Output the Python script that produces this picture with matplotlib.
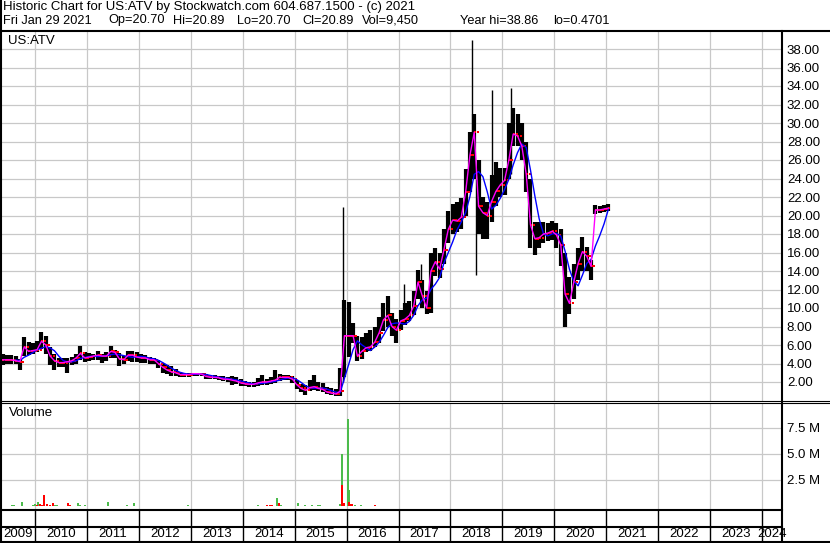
import numpy as np
import pandas as pd
import matplotlib
matplotlib.use("Agg")
import matplotlib.pyplot as plt
from matplotlib.lines import Line2D

plt.rcParams['font.family'] = ['Liberation Sans', 'DejaVu Sans']

# ---- data ----
# monthly high / low / close, May 2009 .. Jan 2021
first_month = "2009-05"
price_hi = [
    5.0, 4.9, 4.9, 4.8, 4.5, 6.9, 6.3, 6.2,
    6.4, 7.4, 7.0, 5.8, 5.0, 4.6, 4.6, 4.6, 4.7, 5.0, 5.9, 5.2,
    5.1, 5.0, 5.3, 5.0, 5.2, 5.9, 5.5, 5.1, 4.8, 5.4, 5.3, 5.2,
    5.0, 4.9, 4.7, 4.6, 4.4, 4.1, 3.8, 3.7, 3.4, 3.1, 3.0, 3.0,
    3.0, 3.0, 3.0, 2.9, 2.8, 2.8, 2.7, 2.6, 2.5, 2.6, 2.5, 2.3,
    2.1, 2.0, 2.0, 2.4, 2.8, 2.3, 2.5, 3.3, 2.9, 2.8, 2.8, 2.6,
    2.2, 1.8, 1.7, 2.2, 2.8, 2.0, 1.9, 1.5, 1.3, 1.2, 3.5, 10.9,
    10.7, 8.4, 7.0, 6.9, 7.3, 7.6, 7.9, 9.0, 10.5, 11.3, 9.5, 8.8,
    9.8, 10.5, 10.8, 11.8, 14.1, 13.0, 11.8, 16.0, 16.5, 16.0, 18.5, 20.5,
    21.2, 21.5, 21.9, 25.0, 29.0, 31.0, 26.0, 22.0, 21.5, 24.4, 25.8, 25.1,
    25.1, 30.0, 31.6, 31.0, 30.0, 28.0, 24.0, 19.3, 19.3, 19.3, 19.2, 19.4,
    19.2, 18.5, 16.0, 13.4, 14.8, 16.5, 17.7, 16.6, 15.2, 21.1, 21.0, 21.1,
    21.2,
]
price_lo = [
    3.8, 3.9, 4.0, 3.9, 3.3, 4.8, 4.9, 5.0,
    5.2, 5.6, 5.0, 3.8, 3.3, 3.6, 3.6, 3.0, 3.8, 4.0, 4.4, 4.2,
    4.3, 4.4, 4.4, 4.1, 4.3, 4.6, 4.6, 3.7, 3.9, 4.3, 4.2, 4.2,
    4.1, 4.1, 4.0, 4.0, 3.5, 3.0, 2.9, 2.7, 2.6, 2.5, 2.5, 2.5,
    2.6, 2.6, 2.6, 2.3, 2.3, 2.3, 2.2, 2.1, 2.0, 1.7, 1.8, 1.6,
    1.6, 1.5, 1.5, 1.6, 1.7, 1.7, 1.8, 1.9, 2.1, 2.2, 2.2, 1.9,
    1.2, 0.9, 0.6, 1.0, 1.1, 1.0, 0.9, 0.7, 0.6, 0.5, 0.5, 2.5,
    4.7, 6.2, 4.3, 4.5, 5.2, 5.4, 5.8, 6.2, 7.5, 8.0, 7.0, 6.2,
    7.6, 8.2, 8.6, 9.2, 11.0, 10.0, 9.4, 9.5, 13.5, 13.2, 14.8, 17.0,
    18.0, 18.2, 18.5, 20.0, 22.5, 24.0, 18.0, 17.5, 17.5, 19.3, 21.0, 22.0,
    22.2, 24.0, 27.5, 27.5, 26.0, 22.5, 16.5, 15.7, 16.5, 17.0, 17.2, 17.3,
    16.5, 14.5, 8.0, 9.4, 11.0, 13.0, 14.0, 14.0, 13.0, 20.2, 20.3, 20.4,
    20.5,
]
price_close = [
    4.4, 4.4, 4.4, 4.3, 4.2, 5.8, 5.3, 5.4,
    5.5, 6.4, 6.0, 4.8, 4.3, 4.1, 4.1, 4.2, 4.3, 4.6, 5.1, 4.6,
    4.7, 4.8, 4.9, 4.8, 4.8, 5.3, 5.2, 4.5, 4.4, 4.9, 4.9, 4.7,
    4.6, 4.6, 4.4, 4.4, 4.0, 3.6, 3.3, 3.1, 3.0, 2.8, 2.8, 2.8,
    2.9, 2.9, 2.85, 2.6, 2.5, 2.5, 2.45, 2.3, 2.3, 2.2, 2.1, 1.9,
    1.8, 1.75, 1.75, 1.9, 2.0, 2.0, 2.1, 2.2, 2.5, 2.5, 2.5, 2.3,
    1.7, 1.3, 1.1, 1.4, 1.5, 1.3, 1.2, 0.9, 0.8, 0.7, 1.0, 7.0,
    7.0, 7.0, 4.8, 5.3, 5.7, 5.8, 6.3, 7.3, 8.7, 9.2, 8.0, 7.6,
    8.6, 8.8, 9.2, 10.2, 12.8, 11.3, 10.0, 14.0, 15.0, 14.2, 16.3, 18.5,
    19.5, 19.4, 19.8, 22.5, 26.5, 29.0, 21.0, 20.3, 20.0, 21.5, 22.6, 23.3,
    23.8, 26.0, 28.8, 28.6, 27.5, 24.5, 19.0, 17.5, 17.6, 18.0, 18.1, 18.3,
    17.9, 16.8, 11.5, 10.5, 12.8, 14.8, 16.1, 15.6, 14.5, 20.6, 20.6, 20.7,
    20.8,
]

# single-day extremes that stick out of the monthly range
spike_dates = ["2015-12-04", "2017-02-08", "2017-06-05", "2018-05-29",
               "2018-06-28", "2018-10-21", "2019-03-01"]
spike_lo = [2.0, 9.0, 11.0, 26.0, 13.6, 19.5, 24.5]
spike_hi = [20.95, 12.6, 14.8, 38.97, 24.0, 33.6, 33.8]

# daily volume bars (millions), True = up day (green)
vol_dates = ["2009-05-06", "2009-07-23", "2009-08-06", "2009-10-01", "2009-12-17",
             "2010-01-04", "2010-01-21", "2010-01-14", "2010-02-05", "2010-02-19",
             "2010-03-05", "2010-03-26", "2010-04-16", "2010-05-07", "2010-05-21",
             "2010-06-04", "2010-08-20", "2010-09-03", "2010-10-30", "2010-11-13",
             "2010-12-18", "2011-05-28", "2011-10-09", "2011-11-26", "2012-12-12",
             "2014-04-17", "2014-06-19", "2014-07-10", "2014-07-24", "2014-08-29",
             "2014-09-12", "2014-09-26", "2015-01-24", "2015-03-14", "2015-05-02",
             "2015-06-14", "2015-06-28", "2015-11-15", "2015-11-26", "2015-11-30",
             "2015-12-10", "2016-01-07", "2016-01-17", "2016-01-14", "2016-01-31",
             "2016-02-08", "2016-02-28", "2016-04-11", "2016-07-19", "2018-05-18",
             "2018-06-15", "2020-09-28"]
vol_millions = [0.2, 0.08, 0.06, 0.4, 0.1,
                0.15, 0.4, 0.1, 0.15, 0.1,
                1.05, 0.15, 0.1, 0.3, 0.1,
                0.05, 0.25, 0.1, 0.3, 0.1,
                0.05, 0.4, 0.05, 0.3, 0.05,
                0.05, 0.05, 0.05, 0.05, 0.8,
                0.3, 0.08, 0.25, 0.08, 0.1,
                0.08, 0.08, 0.15, 5.0, 2.0,
                0.3, 8.4, 1.5, 0.35, 0.2,
                0.15, 0.1, 0.1, 0.05, 0.03,
                0.03, 0.03]
vol_up = [True, True, True, True, True,
          True, True, False, False, False,
          False, False, False, False, True,
          True, False, False, True, True,
          True, True, True, True, True,
          True, False, False, False, True,
          False, True, True, True, True,
          True, True, True, True, False,
          False, True, True, False, False,
          False, True, True, False, True,
          False, True]

years = list(range(2009, 2025))
price_ticks = np.arange(2, 40, 2)
vol_ticks = [2.5, 5.0, 7.5]
vol_tick_labels = ["2.5 M", "5.0 M", "7.5 M"]

header_title = "Historic Chart for US:ATV by Stockwatch.com 604.687.1500 - (c) 2021"
header_fields = ["Fri Jan 29 2021", "Op=20.70", "Hi=20.89", "Lo=20.70",
                 "Cl=20.89", "Vol=9,450", "Year hi=38.86", "lo=0.4701"]
header_field_px = [3, 108, 173, 237, 302, 362, 460, 553]
symbol = "US:ATV"


def decimal_year(dates):
    d = pd.to_datetime(pd.Series(dates))
    return (d.dt.year + (d.dt.dayofyear - 0.5) / 365.0).to_numpy()


# ---- layout in pixels ----
W, H = 830, 543
X2010, PX_YEAR = 35.0, 51.93
FS = 9.5
GRID = "#c8c8c8"
GREEN = "#4cbb4c"
RED = "#ff0000"


def year_at(px):
    return 2010 + (px - X2010) / PX_YEAR


def rect(x0, y0, x1, y1):
    return [x0 / W, 1 - y1 / H, (x1 - x0) / W, (y1 - y0) / H]


def hline(fig, y, x0, x1, lw):
    fig.add_artist(Line2D([x0 / W, x1 / W], [1 - y / H, 1 - y / H],
                          transform=fig.transFigure, color="k", lw=lw))


def vline(fig, x, y0, y1, lw):
    fig.add_artist(Line2D([x / W, x / W], [1 - y0 / H, 1 - y1 / H],
                          transform=fig.transFigure, color="k", lw=lw))


fig = plt.figure(figsize=(W / 100, H / 100), dpi=100)
xlim = (year_at(1), year_at(782))

months = pd.period_range(first_month, periods=len(price_close), freq="M")
mx = (months.year + (months.month - 0.5) / 12).to_numpy(dtype=float)
close = pd.Series(price_close)
price_open = close.shift(1).fillna(close.iloc[0])
ma_long = close.rolling(4).mean()

# price panel
ax = fig.add_axes(rect(1, 31.5, 782, 400.5))
ax.set_xlim(*xlim)
ax.set_ylim(0, (400.5 - 31.5) / 9.25)
ax.set_xticks(range(2010, 2025))
ax.set_xticklabels([])
ax.set_yticks(price_ticks)
ax.set_yticklabels([f"{v:.2f}" for v in price_ticks])
ax.yaxis.tick_right()
ax.tick_params(axis="both", length=0)
ax.tick_params(axis="y", pad=3.5, labelsize=FS)
ax.grid(True, color=GRID, lw=0.9)
ax.set_axisbelow(True)
for s in ax.spines.values():
    s.set_visible(False)

ax.vlines(mx, price_lo, price_hi, color="k", lw=3.0, zorder=2)
ax.vlines(decimal_year(spike_dates), spike_lo, spike_hi, color="k", lw=1.0, zorder=2)
ax.plot(mx - 0.22 / 12, price_open, "s", ms=2.0, mew=0, color=RED, zorder=3)
ax.plot(mx + 0.22 / 12, price_close, "s", ms=2.0, mew=0, color=RED, zorder=3)
ax.plot(mx, ma_long, color="#0000ff", lw=1.0, zorder=4)
ax.plot(mx, price_close, color="#ff00ff", lw=1.0, zorder=5)

# volume panel
axv = fig.add_axes(rect(1, 403.5, 782, 508.5))
axv.set_xlim(*xlim)
axv.set_ylim(-(508.5 - 506) / 26 * 2.5, (506 - 403.5) / 26 * 2.5)
axv.set_xticks(range(2010, 2025))
axv.set_xticklabels([])
axv.set_yticks(vol_ticks)
axv.set_yticklabels(vol_tick_labels)
axv.yaxis.tick_right()
axv.tick_params(axis="both", length=0)
axv.tick_params(axis="y", pad=3.5, labelsize=FS)
axv.grid(True, color=GRID, lw=0.9)
axv.set_axisbelow(True)
for s in axv.spines.values():
    s.set_visible(False)
axv.bar(decimal_year(vol_dates), vol_millions, width=2 / PX_YEAR,
        color=[GREEN if u else RED for u in vol_up], zorder=2)

# year band
axt = fig.add_axes(rect(1, 510, 782, 541))
axt.set_xlim(*xlim)
axt.set_ylim(0, 1)
axt.axis("off")
axt.vlines(range(2010, 2025), 0, 1, color="k", lw=1.0)
for yr in years:
    a = max(yr, xlim[0])
    b = min(yr + 1, xlim[1])
    axt.text((a + b) / 2, 0.21, str(yr), ha="center", va="center", fontsize=FS)

# header + labels
fig.text(3 / W, 1 - 1 / H, header_title, ha="left", va="top", fontsize=FS)
for txt, px in zip(header_fields, header_field_px):
    fig.text(px / W, 1 - 14.5 / H, txt, ha="left", va="top", fontsize=9.2)
fig.text(8 / W, 1 - 35.5 / H, symbol, ha="left", va="top", fontsize=FS)
fig.text(9 / W, 1 - 406.5 / H, "Volume", ha="left", va="top", fontsize=FS)

# frame lines
vline(fig, 1, 0, H, 1.5)
hline(fig, 30.5, 0, W, 1.5)
vline(fig, 782, 30.5, 542, 1.5)
hline(fig, 400.5, 0, W, 0.8)
hline(fig, 403, 0, W, 0.8)
hline(fig, 509.5, 0, 782, 1.5)
hline(fig, 527, 0, 782, 1.5)
hline(fig, 541.5, 0, W, 1.5)

fig.savefig("out.png", dpi=100)
